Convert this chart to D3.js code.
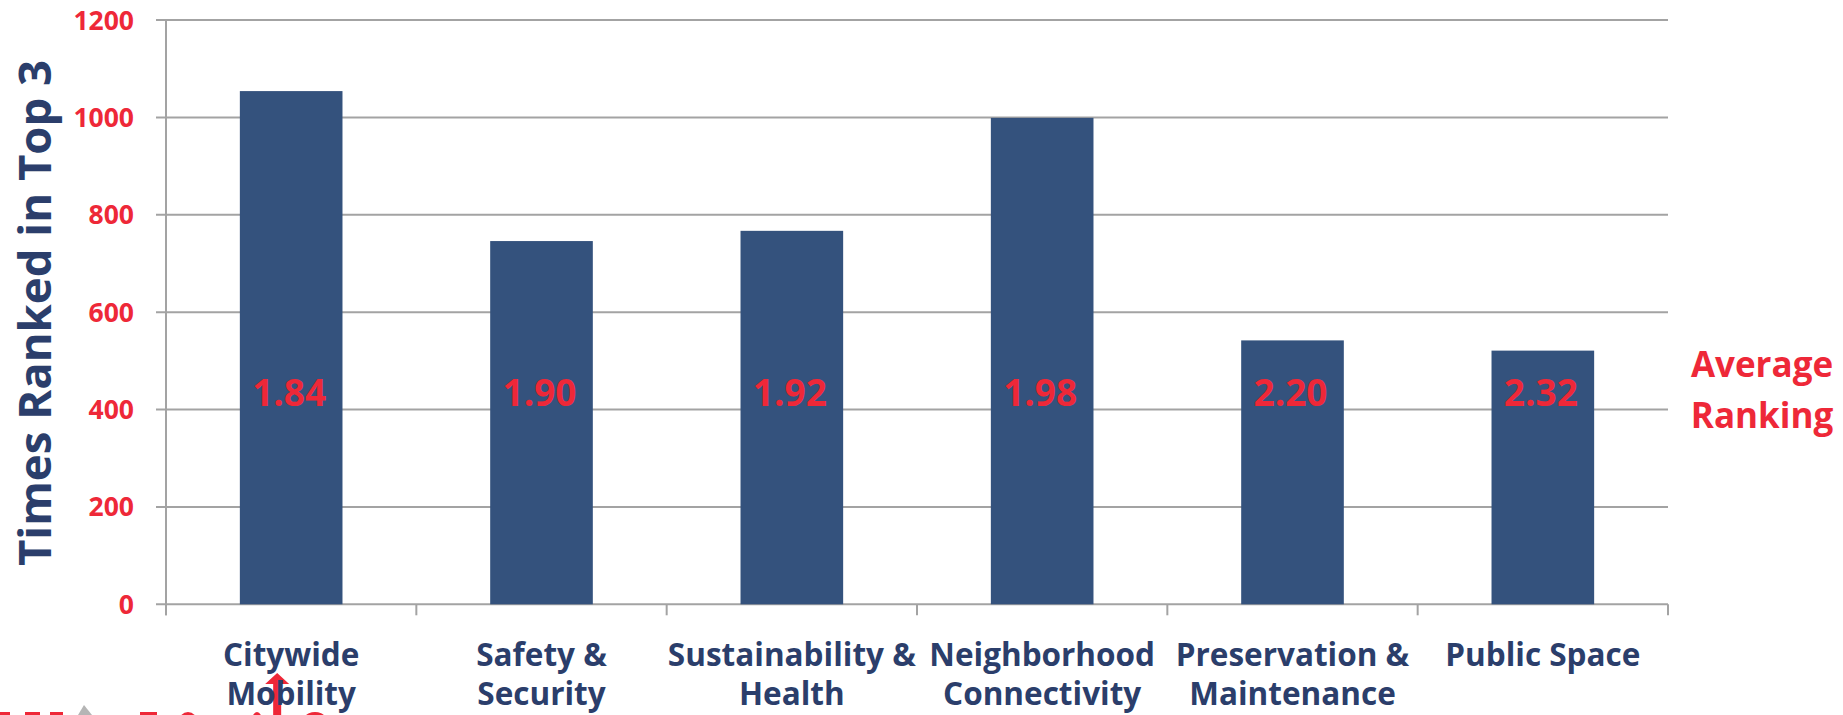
<!DOCTYPE html>
<html>
<head>
<meta charset="utf-8">
<script src="https://cdn.jsdelivr.net/npm/d3@7"></script>
<style>
  html, body { margin: 0; padding: 0; background: #ffffff; }
  svg { display: block; }
  text { font-family: "Open Sans", Lato, sans-serif; font-weight: 700; }
</style>
</head>
<body>
<svg id="chart" width="1843" height="715"></svg>
<script>
// Survey results: how often each goal was ranked in a respondent's top 3,
// with the goal's average ranking printed on its bar.
const categories = [
  "Citywide Mobility",
  "Safety & Security",
  "Sustainability & Health",
  "Neighborhood Connectivity",
  "Preservation & Maintenance",
  "Public Space"
];
const categoryLines = [
  ["Citywide", "Mobility"],
  ["Safety &", "Security"],
  ["Sustainability &", "Health"],
  ["Neighborhood", "Connectivity"],
  ["Preservation &", "Maintenance"],
  ["Public Space"]
];
const timesRankedTop3 = [1054, 746, 767, 999, 542, 521];
const averageRanking = ["1.84", "1.90", "1.92", "1.98", "2.20", "2.32"];
const yTicks = [0, 200, 400, 600, 800, 1000, 1200];

const NAVY = "#2b3e6b";
const BAR = "#34527d";
const RED = "#ee2838";
const GRID = "#a3a3a3";

const svg = d3.select("#chart");
const plot = { left: 166, right: 1668, top: 20, bottom: 604.3 };

const x = d3.scaleBand()
  .domain(categories)
  .range([plot.left, plot.right])
  .padding(0);

const y = d3.scaleLinear()
  .domain([0, 1200])
  .range([plot.bottom, plot.top]);

// Horizontal gridlines with short ticks to the left of the axis
svg.append("g")
  .selectAll("line")
  .data(yTicks)
  .join("line")
  .attr("x1", plot.left - 10)
  .attr("x2", plot.right)
  .attr("y1", d => y(d))
  .attr("y2", d => y(d))
  .attr("stroke", GRID)
  .attr("stroke-width", 2);

// Y axis line
svg.append("line")
  .attr("x1", plot.left).attr("x2", plot.left)
  .attr("y1", plot.top).attr("y2", plot.bottom + 11)
  .attr("stroke", GRID).attr("stroke-width", 2);

// X axis tick marks at the category boundaries
const boundaries = categories.map(c => x(c)).concat([plot.right]);
svg.append("g")
  .selectAll("line")
  .data(boundaries)
  .join("line")
  .attr("x1", d => d).attr("x2", d => d)
  .attr("y1", plot.bottom).attr("y2", plot.bottom + 11)
  .attr("stroke", GRID).attr("stroke-width", 2);

// Y tick labels
svg.append("g")
  .selectAll("text")
  .data(yTicks)
  .join("text")
  .attr("x", 134)
  .attr("y", d => y(d))
  .attr("dy", "0.36em")
  .attr("text-anchor", "end")
  .attr("fill", RED)
  .attr("font-size", 26.5)
  .text(d => d);

// Bars
const barFrac = 0.41;
const barW = x.bandwidth() * barFrac;
svg.append("g")
  .selectAll("rect")
  .data(categories)
  .join("rect")
  .attr("x", (c) => x(c) + (x.bandwidth() - barW) / 2)
  .attr("y", (c, i) => y(timesRankedTop3[i]))
  .attr("width", barW)
  .attr("height", (c, i) => y(0) - y(timesRankedTop3[i]))
  .attr("fill", BAR);

// Average ranking printed on each bar
svg.append("g")
  .selectAll("text")
  .data(categories)
  .join("text")
  .attr("x", c => x(c) + x.bandwidth() / 2 - 2)
  .attr("y", 406)
  .attr("text-anchor", "middle")
  .attr("fill", RED)
  .attr("font-size", 37)
  .text((c, i) => averageRanking[i]);

// Slide fragments peeking in at the bottom-left edge
const frag = svg.append("g").attr("fill", RED);
[[0, 10], [25, 40], [50, 63], [140, 157]].forEach(([a, b]) => {
  frag.append("rect").attr("x", a).attr("y", 712).attr("width", b - a).attr("height", 3);
});
[[188, 12], [257, 7], [315, 16]].forEach(([cx, rx]) => {
  frag.append("ellipse").attr("cx", cx).attr("cy", 730).attr("rx", rx).attr("ry", 18);
});
frag.selectAll("ellipse").filter((d, i) => i !== 1).each(function () {
  const e = d3.select(this);
  svg.append("ellipse")
    .attr("cx", e.attr("cx")).attr("cy", 730)
    .attr("rx", +e.attr("rx") - 5).attr("ry", 13)
    .attr("fill", "#ffffff");
});
svg.append("path")
  .attr("d", "M84,705 L92,715 L78,715 Z")
  .attr("fill", "#b5b5b5");

// Red upward arrow beneath the first category
const arrowX = x(categories[0]) + x.bandwidth() / 2 - 14;
svg.append("path")
  .attr("d", `M${arrowX},673 L${arrowX + 12},684 L${arrowX + 4},684 L${arrowX + 4},715 L${arrowX - 4},715 L${arrowX - 4},684 L${arrowX - 12},684 Z`)
  .attr("fill", RED);

// Category labels
const catG = svg.append("g")
  .selectAll("text")
  .data(categories)
  .join("text")
  .attr("x", c => x(c) + x.bandwidth() / 2)
  .attr("y", 666)
  .attr("text-anchor", "middle")
  .attr("fill", NAVY)
  .attr("font-size", 31.5);
catG.selectAll("tspan")
  .data((c, i) => categoryLines[i])
  .join("tspan")
  .attr("x", function () { return d3.select(this.parentNode).attr("x"); })
  .attr("dy", (d, j) => j === 0 ? 0 : 39)
  .text(d => d);

// Y axis title
svg.append("text")
  .attr("transform", "translate(51,313) rotate(-90)")
  .attr("text-anchor", "middle")
  .attr("fill", NAVY)
  .attr("font-size", 45.5)
  .text("Times Ranked in Top 3");

// Legend for the numbers printed on the bars
svg.append("text")
  .attr("x", 1762)
  .attr("y", 377)
  .attr("text-anchor", "middle")
  .attr("fill", RED)
  .attr("font-size", 35)
  .selectAll("tspan")
  .data(["Average", "Ranking"])
  .join("tspan")
  .attr("x", 1762)
  .attr("dy", (d, j) => j === 0 ? 0 : 51)
  .text(d => d);
</script>
</body>
</html>
